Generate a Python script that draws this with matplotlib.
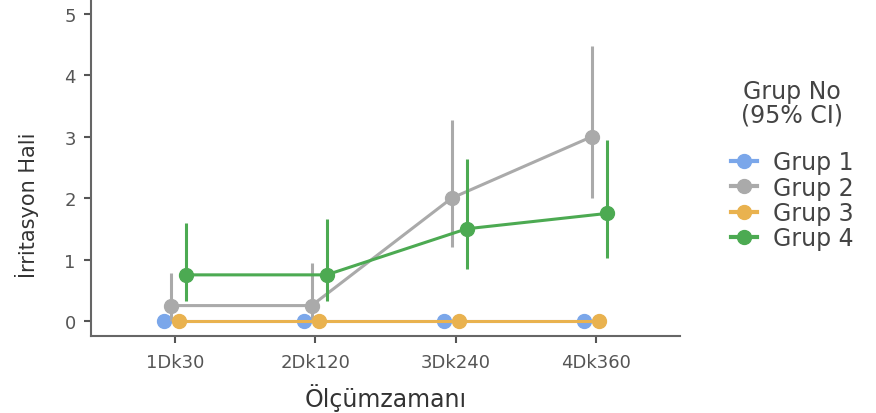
import numpy as np
import matplotlib
matplotlib.use("Agg")
from matplotlib import pyplot as plt
from matplotlib.lines import Line2D

# Measurement times and group summaries (mean with 95% CI)
times = ['1Dk30', '2Dk120', '3Dk240', '4Dk360']
groups = ['Grup 1', 'Grup 2', 'Grup 3', 'Grup 4']
colors = ['#7ba7ea', '#aaaaaa', '#e9b24f', '#4caa52']

means = {
    'Grup 1': [0, 0, 0, 0],
    'Grup 2': [0.25, 0.25, 2.0, 3.0],
    'Grup 3': [0, 0, 0, 0],
    'Grup 4': [0.75, 0.75, 1.5, 1.75],
}
ci_low = {
    'Grup 1': [0, 0, 0, 0],
    'Grup 2': [0, 0, 1.2, 2.0],
    'Grup 3': [0, 0, 0, 0],
    'Grup 4': [0.32, 0.32, 0.85, 1.02],
}
ci_high = {
    'Grup 1': [0, 0, 0, 0],
    'Grup 2': [0.78, 0.94, 3.27, 4.48],
    'Grup 3': [0, 0, 0, 0],
    'Grup 4': [1.6, 1.66, 2.64, 2.95],
}

fig = plt.figure(figsize=(8.76, 4.14), dpi=100)
ax = fig.add_axes([0.104, 0.186, 0.672, 0.814])

x = np.arange(len(times))
offsets = np.linspace(-0.08, 0.08, len(groups))

for i, g in enumerate(groups):
    m = np.array(means[g])
    lo = m - np.array(ci_low[g])
    hi = np.array(ci_high[g]) - m
    ax.errorbar(x + offsets[i], m, yerr=[lo, hi], color=colors[i],
                marker='o', markersize=10, lw=2.2, elinewidth=2.2,
                capsize=0, zorder=2 + i)

ax.set_xlim(-0.6, 3.6)
ax.set_ylim(-0.245, 5.24)
ax.set_xticks(x)
ax.set_xticklabels(times)
ax.set_yticks([0, 1, 2, 3, 4, 5])

for side in ['top', 'right']:
    ax.spines[side].set_visible(False)
for side in ['left', 'bottom']:
    ax.spines[side].set_color('#666666')
    ax.spines[side].set_linewidth(1.5)
ax.tick_params(colors='#555555', labelsize=13, length=5, width=1.5)
ax.tick_params(axis='x', pad=7)
ax.tick_params(axis='y', pad=6)

ax.set_xlabel('Ölçümzamanı', fontsize=17, color='#333333', labelpad=9)
ax.set_ylabel('İrritasyon Hali', fontsize=15, color='#333333')
ax.yaxis.set_label_coords(-0.088, 0.39)

handles = [Line2D([0], [0], color=c, marker='o', markersize=10, lw=3)
           for c in colors]
leg = fig.legend(handles, groups, title='Grup No\n(95% CI)\n',
                 loc='center left', bbox_to_anchor=(0.81, 0.60),
                 frameon=False, fontsize=17, title_fontsize=17,
                 handlelength=1.1, handletextpad=0.7, labelspacing=0.05)
for t in leg.get_texts():
    t.set_color('#444444')
leg.get_title().set_color('#444444')
leg.get_title().set_multialignment('center')
leg.get_title().set_linespacing(0.95)

fig.savefig('out.png', dpi=100)
